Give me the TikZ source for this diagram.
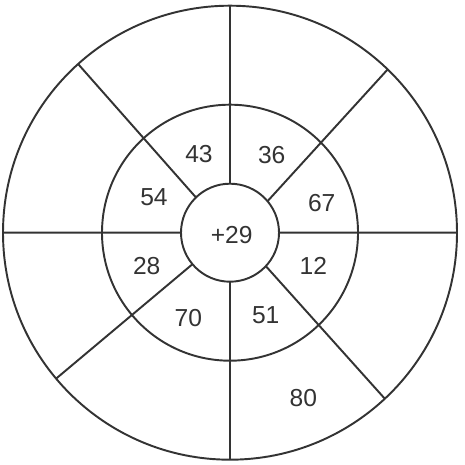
\documentclass[tikz,border=0pt]{standalone}
\usepackage{fontspec}
\setmainfont{Liberation Sans}
\usetikzlibrary{calc}

\tikzset{
    ringnum/.style = {font = \fontsize{14}{16}\selectfont, inner sep = 0pt}
}

\begin{document}
\begin{tikzpicture}[x = 0.02cm, y = 0.02cm, black!80, line width = 1.1pt]

    \def\Router{227}
    \def\Rmiddle{128}
    \def\Rinner{49}

    \useasboundingbox (-230,-232.3) rectangle (235,232.7);

    \coordinate (O) at (0,0);

    \draw (O) circle (\Router);
    \draw (O) circle (\Rmiddle);
    \draw (O) circle (\Rinner);

    % spokes from the inner ring to the rim
    \draw foreach \Ain/\Aout in {0/0, 90/90, 180/180, 270/270, 40/46, 134/132, 220/220, -43/-47}
        {(\Ain:\Rinner) -- (\Aout:\Router)};

    \node[ringnum] (centre) at (1.7,-2.3) {+29};
    \foreach \val/\px/\py in {43/-31/78.7, 36/41.7/77.7, 54/-76/35.4, 67/91.7/30,
                              28/-83.3/-33, 12/83.3/-33, 70/-41.7/-85.6, 51/35.7/-82.3, 80/73.3/-165}
        \node[ringnum] (n\val) at (\px,\py) {\val};

\end{tikzpicture}
\end{document}
